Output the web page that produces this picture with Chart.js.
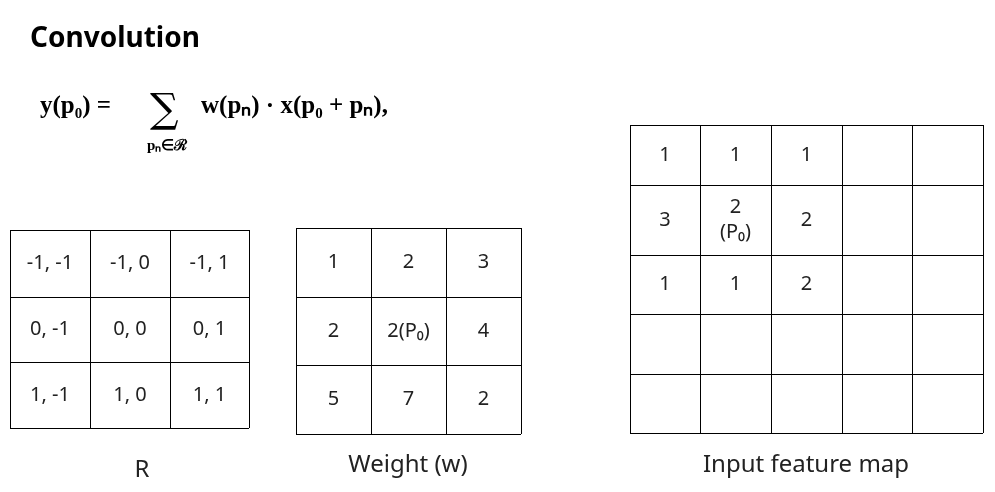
<!DOCTYPE html>
<html><head><meta charset="utf-8">
<script src="https://cdn.jsdelivr.net/npm/chart.js@4"></script>
<style>html,body{margin:0;padding:0;background:#fff}#w{width:995px;height:492px}</style>
</head><body><div id="w"><canvas id="c"></canvas></div>
<script>
// Data
const rCells = [["-1, -1","-1, 0","-1, 1"],["0, -1","0, 0","0, 1"],["1, -1","1, 0","1, 1"]];
const weightCells = [["1","2","3"],["2","2(P₀)","4"],["5","7","2"]];
const inputCells = [["1","1","1","",""],["3","2\n(P₀)","2","",""],["1","1","2","",""],["","","","",""],["","","","",""]];
const gridLabels = ["R","Weight (w)","Input feature map"];
// Layout (in axis units = pixels of 995x492 frame)
const grids = [
  {cells:rCells, xs:[10,90,170,249], ys:[230,297,362,428], label:[142,470]},
  {cells:weightCells, xs:[296,371,446,521], ys:[228,297,365,434], label:[408,465]},
  {cells:inputCells, xs:[630,700,771,842,912,983], ys:[125,185,255,314,374,433], label:[806,465]}
];
const drawPlugin = {
  id:'diagram',
  afterDraw(chart){
    const ctx=chart.ctx, X=chart.scales.x, Y=chart.scales.y;
    const px=v=>X.getPixelForValue(v), py=v=>Y.getPixelForValue(v);
    ctx.save();
    ctx.fillStyle='#000';ctx.textBaseline='alphabetic';ctx.textAlign='left';
    ctx.font='bold 28px "Noto Sans", sans-serif';
    ctx.fillText('Convolution',px(30),py(47));
    // formula
    ctx.font='bold 25px "Liberation Serif", serif';
    ctx.fillText('y(p₀) =',px(40),py(113));
    ctx.font='40px "DejaVu Serif", serif';
    ctx.fillText('∑',px(150),py(122));
    ctx.font='bold 15px "Liberation Serif", serif';
    ctx.fillText('pₙ∈ℛ',px(147),py(150));
    ctx.font='bold 25px "Liberation Serif", serif';
    ctx.fillText('w(pₙ) · x(p₀ + pₙ),',px(201),py(113));
    grids.forEach((g,gi)=>{
      ctx.strokeStyle='#000';ctx.lineWidth=1;
      g.xs.forEach(x=>{ctx.beginPath();ctx.moveTo(Math.round(px(x))+.5,py(g.ys[0]));ctx.lineTo(Math.round(px(x))+.5,py(g.ys[g.ys.length-1]));ctx.stroke();});
      g.ys.forEach(y=>{ctx.beginPath();ctx.moveTo(px(g.xs[0]),Math.round(py(y))+.5);ctx.lineTo(px(g.xs[g.xs.length-1]),Math.round(py(y))+.5);ctx.stroke();});
      ctx.fillStyle='#222';ctx.textAlign='center';ctx.textBaseline='middle';
      ctx.font='20px "Noto Sans", sans-serif';
      g.cells.forEach((row,r)=>row.forEach((t,c)=>{
        if(!t)return;
        const cx=px((g.xs[c]+g.xs[c+1])/2), cy=py((g.ys[r]+g.ys[r+1])/2);
        const lines=t.split('\n');
        lines.forEach((l,i)=>ctx.fillText(l,cx,cy+(i-(lines.length-1)/2)*25));
      }));
      ctx.font='24px "Noto Sans", sans-serif';
      ctx.fillText(gridLabels[gi],px(g.label[0]),py(g.label[1]));
    });
    ctx.restore();
  }
};
new Chart(document.getElementById('c'),{
  type:'scatter',
  data:{datasets:[{data:[]}]},
  options:{responsive:true,maintainAspectRatio:false,animation:false,
    layout:{padding:0},
    plugins:{legend:{display:false},tooltip:{enabled:false}},
    scales:{x:{type:'linear',min:0,max:995,display:false},y:{type:'linear',min:0,max:492,reverse:true,display:false}}},
  plugins:[drawPlugin]
});
</script></body></html>
